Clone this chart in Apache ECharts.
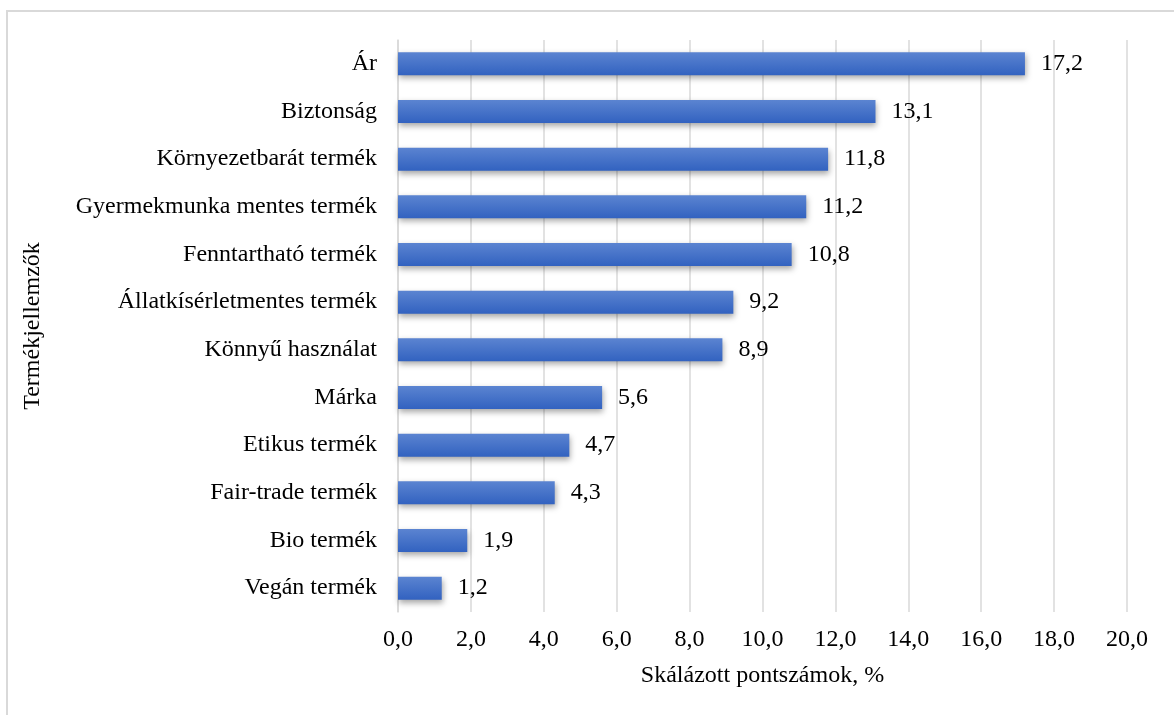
<!DOCTYPE html>
<html><head><meta charset="utf-8">
<script src="https://cdn.jsdelivr.net/npm/echarts@6/dist/echarts.min.js"></script>
<style>
html,body{margin:0;padding:0;background:#fff;}
#frame{position:absolute;left:6px;top:10px;width:1200px;height:720px;border-left:2px solid #d9d9d9;border-top:2px solid #d9d9d9;box-sizing:border-box;}
#chart{position:absolute;left:0;top:0;width:1174px;height:715px;}
</style></head>
<body>
<div id="frame"></div>
<div id="chart"></div>
<script>
const categories = ["Ár","Biztonság","Környezetbarát termék","Gyermekmunka mentes termék","Fenntartható termék","Állatkísérletmentes termék","Könnyű használat","Márka","Etikus termék","Fair-trade termék","Bio termék","Vegán termék"];
const values = [17.2,13.1,11.8,11.2,10.8,9.2,8.9,5.6,4.7,4.3,1.9,1.2];
const xAxisTitle = "Skálázott pontszámok, %";
const yAxisTitle = "Termékjellemzők";

const font = "'Liberation Serif','Times New Roman',serif";
const fs = 24;
const chart = echarts.init(document.getElementById('chart'), null, {renderer:'canvas'});
chart.setOption({
  animation:false,
  backgroundColor:'transparent',
  grid:{left:398,right:47,top:40,bottom:103,containLabel:false},
  xAxis:{
    type:'value',min:0,max:20,interval:2,
    axisLine:{show:false},axisTick:{show:false},
    splitLine:{show:true,lineStyle:{color:'#d9d9d9',width:1.5}},
    axisLabel:{formatter:v=>v.toFixed(1).replace('.',','),color:'#000',fontFamily:font,fontSize:fs,margin:16},
    name:xAxisTitle,nameLocation:'middle',nameGap:52,
    nameTextStyle:{color:'#000',fontFamily:font,fontSize:fs}
  },
  yAxis:{
    type:'category',data:categories.slice().reverse(),
    axisLine:{show:true,lineStyle:{color:'#d9d9d9',width:1.5}},axisTick:{show:false},
    axisLabel:{color:'#000',fontFamily:font,fontSize:fs,margin:21,padding:[3,0,0,0]},
    name:yAxisTitle,nameLocation:'middle',nameGap:353,nameRotate:90,
    nameTextStyle:{color:'#000',fontFamily:font,fontSize:fs}
  },
  series:[{
    type:'bar',data:values.slice().reverse(),barWidth:23,
    itemStyle:{
      color:new echarts.graphic.LinearGradient(0,0,0,1,[{offset:0,color:'#5b84d1'},{offset:1,color:'#3262c0'}]),
      shadowColor:'rgba(0,0,0,0.35)',shadowBlur:6,shadowOffsetX:1,shadowOffsetY:3
    },
    label:{show:true,position:'right',distance:16,padding:[3,0,0,0],formatter:p=>p.value.toFixed(1).replace('.',','),color:'#000',fontFamily:font,fontSize:fs}
  }]
});
</script>
</body></html>
